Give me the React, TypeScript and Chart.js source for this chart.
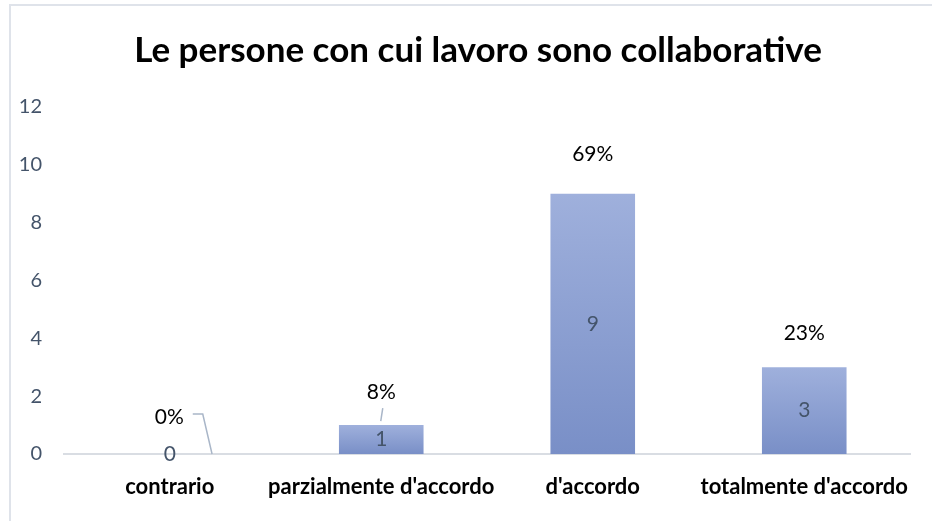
import React, { useEffect, useRef } from "react";
import { Chart, registerables } from "chart.js";

Chart.register(...registerables);

const chartTitle = "Le persone con cui lavoro sono collaborative";
const categories = ["contrario", "parzialmente d'accordo", "d'accordo", "totalmente d'accordo"];
const counts = [0, 1, 9, 3];
const percentLabels = ["0%", "8%", "69%", "23%"];
const yTicks = [0, 2, 4, 6, 8, 10, 12];

const FONT = "Lato, 'Open Sans', sans-serif";
const TICK_COLOR = "#44546a";
const LEADER_COLOR = "#a9b6c8";
// label offsets above bar top (px) and which ones have leader lines
const pctOffsets = [37, 33, 40, 34];
const hasLeader = [true, true, false, false];

const labelPlugin = {
  id: "customLabels",
  afterDraw(chart: any) {
    const ctx = chart.ctx as CanvasRenderingContext2D;
    ctx.save();
    // title
    ctx.font = `bold 35px ${FONT}`;
    ctx.fillStyle = "#000000";
    ctx.textAlign = "center";
    ctx.textBaseline = "middle";
    ctx.fillText(chartTitle, 478, 51);

    const meta = chart.getDatasetMeta(0);
    meta.data.forEach((bar: any, i: number) => {
      const { x, y, base, width } = bar.getProps(["x", "y", "base", "width"], true);
      ctx.font = `21px ${FONT}`;
      ctx.fillStyle = TICK_COLOR;
      ctx.textAlign = "center";
      ctx.textBaseline = "middle";
      ctx.fillText(String(counts[i]), x, (y + base) / 2);

      ctx.fillStyle = "#000000";
      const off = pctOffsets[i];
      if (counts[i] === 0) {
        ctx.textAlign = "right";
        ctx.fillText(percentLabels[i], x + 14, base - off);
        if (hasLeader[i]) {
          ctx.strokeStyle = LEADER_COLOR;
          ctx.lineWidth = 1.5;
          ctx.beginPath();
          ctx.moveTo(x + 23, base - 40);
          ctx.lineTo(x + 33, base - 40);
          ctx.lineTo(x + width / 2, base);
          ctx.stroke();
        }
      } else {
        ctx.textAlign = "center";
        ctx.fillText(percentLabels[i], x, y - off);
        if (hasLeader[i]) {
          ctx.strokeStyle = LEADER_COLOR;
          ctx.lineWidth = 1.5;
          ctx.beginPath();
          ctx.moveTo(x + 1.5, y - 17);
          ctx.lineTo(x - 0.5, y - 4);
          ctx.stroke();
        }
      }
    });
    ctx.restore();
  },
};

export default function App() {
  const ref = useRef<HTMLCanvasElement>(null);
  useEffect(() => {
    if (!ref.current) return;
    const chart = new Chart(ref.current, {
      type: "bar",
      data: {
        labels: categories,
        datasets: [
          {
            data: counts,
            backgroundColor: (c: any) => {
              const ch = c.chart;
              const { ctx, chartArea, scales } = ch;
              if (!chartArea || !scales.y) return "#8a9fd2";
              const v = c.raw as number;
              const top = scales.y.getPixelForValue(v);
              const bottom = scales.y.getPixelForValue(0);
              if (bottom - top < 1) return "#8a9fd2";
              const g = ctx.createLinearGradient(0, top, 0, bottom);
              g.addColorStop(0, "#9fb0dc");
              g.addColorStop(1, "#798fc7");
              return g;
            },
            borderWidth: 0,
            categoryPercentage: 1,
            barPercentage: 0.4,
          },
        ],
      },
      options: {
        responsive: false,
        animation: false,
        layout: { padding: { top: 107, right: 22, bottom: 0, left: 0 } },
        plugins: {
          legend: { display: false },
          title: { display: false },
          tooltip: { enabled: false },
        },
        scales: {
          x: {
            grid: { display: false, drawTicks: false },
            border: { display: true, color: "#d9dde3", width: 2 },
            ticks: {
              color: "#000000",
              font: { family: FONT, size: 22, weight: "bold" },
              padding: 20,
              maxRotation: 0,
              autoSkip: false,
            },
            afterFit: (s: any) => {
              s.height = 67;
            },
          },
          y: {
            min: 0,
            max: 12,
            afterBuildTicks: (s: any) => {
              s.ticks = yTicks.map((v) => ({ value: v }));
            },
            grid: { display: false, drawTicks: false },
            border: { display: false },
            ticks: {
              color: TICK_COLOR,
              font: { family: FONT, size: 20 },
              padding: 22,
            },
            afterFit: (s: any) => {
              s.width = 64;
            },
          },
        },
      },
      plugins: [labelPlugin],
    });
    return () => chart.destroy();
  }, []);

  return (
    <div style={{ position: "fixed", left: 0, top: 0, width: 932, height: 521, background: "#fff", overflow: "hidden" }}>
      <div
        style={{
          position: "absolute",
          left: 9,
          top: 4,
          width: 960,
          height: 560,
          border: "2px solid #dfe3ea",
          boxSizing: "border-box",
        }}
      />
      <canvas ref={ref} width={932} height={521} style={{ position: "absolute", left: 0, top: 0 }} />
    </div>
  );
}
